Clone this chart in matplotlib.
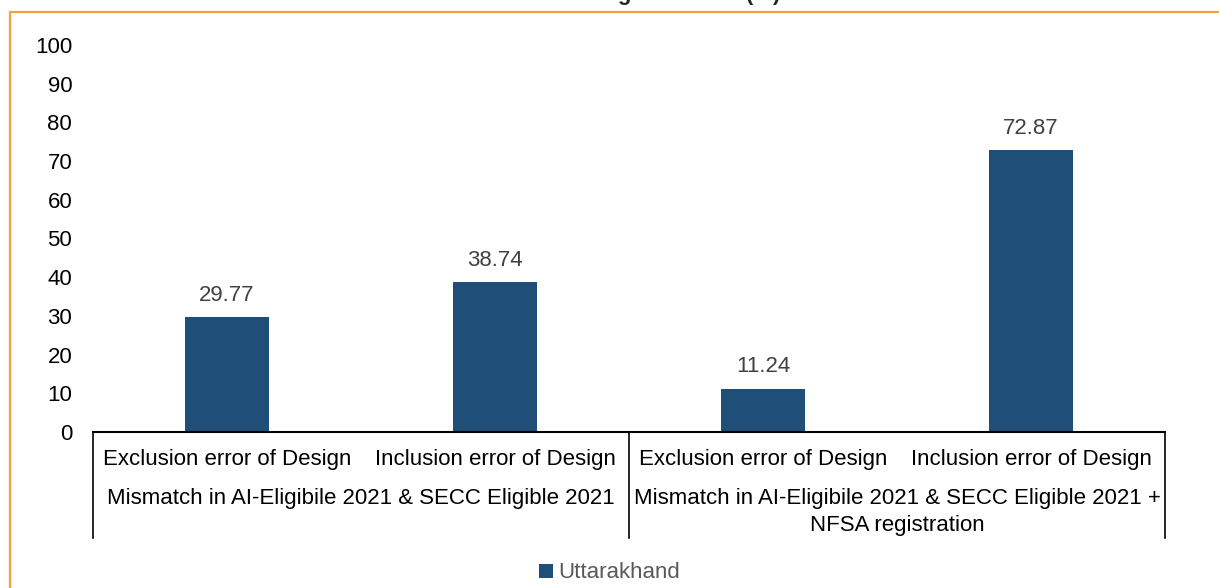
import matplotlib.pyplot as plt
import matplotlib.patches as patches
import matplotlib.transforms as mtransforms

# data
categories = ["Exclusion error of Design", "Inclusion error of Design",
              "Exclusion error of Design", "Inclusion error of Design"]
groups = ["Mismatch in AI-Eligibile 2021 & SECC Eligible 2021",
          "Mismatch in AI-Eligibile 2021 & SECC Eligible 2021 +\nNFSA registration"]
group_size = [2, 2]
values = [29.77, 38.74, 11.24, 72.87]
series_name = "Uttarakhand"
title = "Household Listing Mismatch (%)"

plt.rcParams['font.family'] = ['Liberation Sans', 'DejaVu Sans']
W, H = 1219, 588
fig = plt.figure(figsize=(W / 100, H / 100), dpi=100)

# axes placed in pixel terms
left, right, bottom, top = 93, 1165, 432, 45
ax = fig.add_axes([left / W, (H - bottom) / H, (right - left) / W, (bottom - top) / H])

x = list(range(len(values)))
bars = ax.bar(x, values, width=0.31, color='#1F4E79', label=series_name)
ax.bar_label(bars, labels=[f"{v:.2f}" for v in values], padding=8,
             fontsize=16, color='#404040')

ax.set_xlim(-0.5, len(values) - 0.5)
ax.set_ylim(0, 100)
ax.set_yticks(range(0, 101, 10))
ax.tick_params(axis='y', length=0, pad=15, labelsize=16, labelcolor='black')
ax.set_xticks([])
for s in ['top', 'right', 'left']:
    ax.spines[s].set_visible(False)
ax.spines['bottom'].set_color('black')
ax.spines['bottom'].set_linewidth(1.5)

# multi-level category axis
trans = mtransforms.blended_transform_factory(ax.transData, ax.transAxes)
px = 1.0 / (bottom - top)  # one pixel in axes fraction
for i, c in enumerate(categories):
    ax.text(i, -28 * px, c, transform=trans, ha='center', va='center',
            fontsize=16, color='black')

edges = [-0.5]
for n in group_size:
    edges.append(edges[-1] + n)
for e in edges:
    ax.plot([e, e], [0, -106 * px], transform=trans, color='black', lw=1.2,
            clip_on=False)
for g, (a, b) in zip(groups, zip(edges[:-1], edges[1:])):
    ax.text((a + b) / 2, -56 * px, g, transform=trans, ha='center', va='top',
            fontsize=16, color='black', multialignment='center',
            linespacing=1.35)

# legend
leg = fig.legend(handles=[bars], labels=[series_name], loc='center',
                 bbox_to_anchor=(0.5, (H - 573) / H), frameon=False,
                 fontsize=16, handlelength=0.6, handleheight=0.6,
                 handletextpad=0.25, labelcolor='#595959')

# clipped title at the very top
fig.text(0.5, 1.0, title, ha='center', va='baseline', fontsize=16,
         fontweight='bold', color='#262626')

# orange frame
fig.patches.append(patches.Rectangle((10 / W, -0.1), 1.2, (H - 12) / H + 0.1,
                                     transform=fig.transFigure, fill=False,
                                     edgecolor='#F2A33A', lw=1.6))

fig.savefig('out.png', dpi=100)
